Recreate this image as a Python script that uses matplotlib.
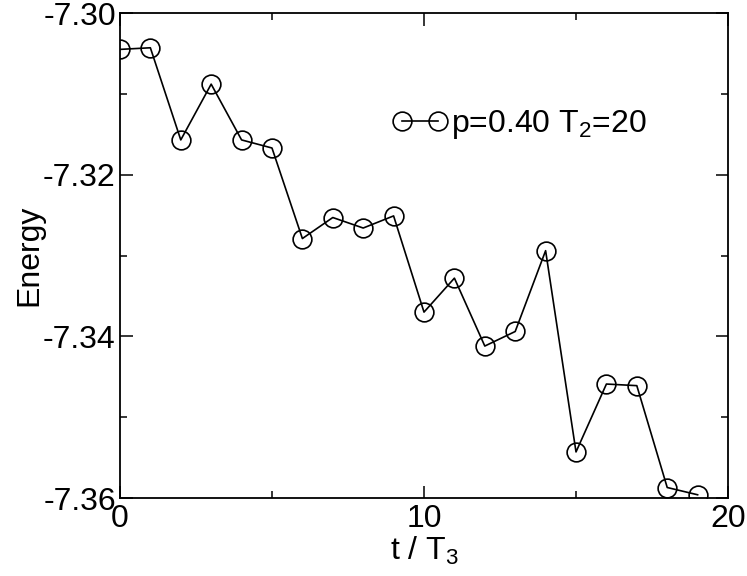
import matplotlib
matplotlib.use('Agg')
import matplotlib.pyplot as plt
from matplotlib.ticker import MultipleLocator, FormatStrFormatter

matplotlib.rcParams['font.family'] = 'Liberation Sans'
matplotlib.rcParams['axes.unicode_minus'] = False

# data
t = list(range(20))
energy = [-7.3045, -7.3043, -7.3157, -7.3088, -7.3157, -7.3167, -7.3279, -7.3253,
          -7.3266, -7.3251, -7.3370, -7.3328, -7.3412, -7.3394, -7.3294, -7.3543,
          -7.3459, -7.3461, -7.3587, -7.3596]
label = 'p=0.40 T$\\mathregular{_2}$=20'

fs = 23
fig = plt.figure(figsize=(7.47, 5.76), dpi=100)
ax = fig.add_axes([0.1606, 0.1354, 0.8140, 0.8420])

ax.plot(t, energy, c='black', linewidth=1.2, marker='o', markersize=13.5,
        markerfacecolor='none', markeredgecolor='black', markeredgewidth=1.2, label=label)

ax.set_xlim(0, 20)
ax.set_ylim(-7.36, -7.30)
ax.xaxis.set_major_locator(MultipleLocator(10))
ax.xaxis.set_minor_locator(MultipleLocator(5))
ax.yaxis.set_major_locator(MultipleLocator(0.02))
ax.yaxis.set_minor_locator(MultipleLocator(0.01))
ax.yaxis.set_major_formatter(FormatStrFormatter('%.2f'))
ax.tick_params(which='both', direction='in', top=True, right=True, labelsize=fs, width=1.1)
ax.tick_params(which='major', length=9, pad=3)
ax.tick_params(axis='x', which='major', pad=4)
ax.tick_params(which='minor', length=5)
for s in ax.spines.values():
    s.set_linewidth(1.3)

ax.set_xlabel('t / T$\\mathregular{_3}$', fontsize=fs, labelpad=1)
ax.set_ylabel('Energy', fontsize=fs, labelpad=-1)

ax.legend(loc='center left', bbox_to_anchor=(0.448, 0.77), frameon=False, numpoints=2,
          handlelength=1.73, handletextpad=0.1, fontsize=fs, borderpad=0, borderaxespad=0)

fig.savefig('out.png', dpi=100)
